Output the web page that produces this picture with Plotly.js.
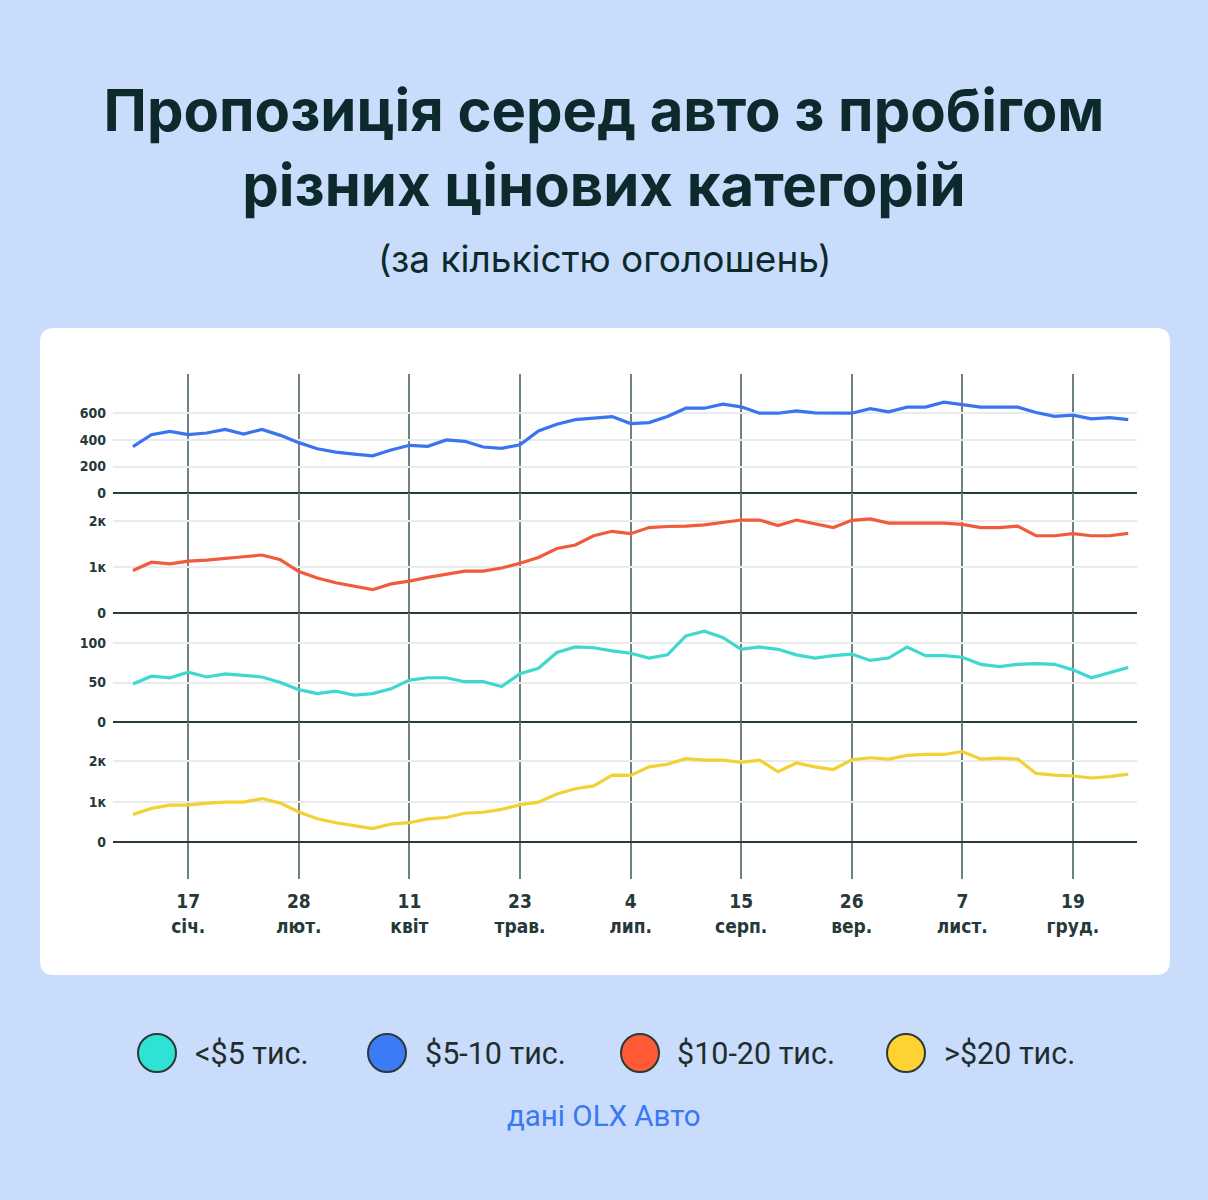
<!DOCTYPE html>
<html>
<head>
<meta charset="utf-8">
<script src="https://cdn.plot.ly/plotly-3.0.1.min.js"></script>
<style>
  html, body { margin: 0; padding: 0; background: #c9dcfb; }
  #chart { width: 1208px; height: 1200px; }
</style>
</head>
<body>
<div id="chart"></div>
<script>
// ---------------- DATA ----------------
const weeks = [
  '2020-12-27','2021-01-03','2021-01-10','2021-01-17','2021-01-24','2021-01-31','2021-02-07','2021-02-14','2021-02-21','2021-02-28',
  '2021-03-07','2021-03-14','2021-03-21','2021-03-28','2021-04-04','2021-04-11','2021-04-18','2021-04-25','2021-05-02','2021-05-09',
  '2021-05-16','2021-05-23','2021-05-30','2021-06-06','2021-06-13','2021-06-20','2021-06-27','2021-07-04','2021-07-11','2021-07-18',
  '2021-07-25','2021-08-01','2021-08-08','2021-08-15','2021-08-22','2021-08-29','2021-09-05','2021-09-12','2021-09-19','2021-09-26',
  '2021-10-03','2021-10-10','2021-10-17','2021-10-24','2021-10-31','2021-11-07','2021-11-14','2021-11-21','2021-11-28','2021-12-05',
  '2021-12-12','2021-12-19','2021-12-26','2022-01-02','2022-01-09'
];
const seriesNames = ['<$5 тис.', '$5-10 тис.', '$10-20 тис.', '>$20 тис.'];
const under5 = [48,58,56,63,57,61,59,57,50,41, 36,39,34,36,42,53,56,56,51,51, 45,61,68,88,95,94,90,87,81,85,
  109,115,107,92,95,92,85,81,84,86, 78,81,95,84,84,82,73,70,73,74, 73,66,56,62,69];
const from5to10 = [350,440,465,440,453,480,445,480,435,380, 334,309,293,280,324,360,352,400,390,347,
  337,364,468,519,554,564,577,524,531,577, 640,640,670,650,602,602,620,605,605,602,
  637,612,648,648,686,665,648,648,648,607, 579,587,559,569,554];
const from10to20 = [925,1104,1067,1127,1149,1179,1224,1261,1157,903, 761,657,582,507,634,694,776,836,910,910,
  978,1082,1209,1403,1480,1680,1777,1725,1859,1881, 1888,1918,1963,2022,2022,1903,2022,1940,1859,2015,
  2045,1955,1955,1955,1955,1926,1859,1859,1888,1680, 1680,1725,1680,1680,1732];
const over20 = [680,834,915,915,964,988,988,1077,964,745, 575,478,405,332,445,478,575,607,713,737,
  810,923,988,1190,1320,1390,1660,1652,1862,1927, 2065,2032,2032,1976,2032,1741,1960,1862,1798,2040,
  2089,2057,2146,2170,2170,2243,2057,2081,2057,1700, 1660,1636,1587,1620,1684];

const xTickDates = ['2021-01-17','2021-02-28','2021-04-11','2021-05-23','2021-07-04','2021-08-15','2021-09-26','2021-11-07','2021-12-19'];
const xTickDays = ['17','28','11','23','4','15','26','7','19'];
const xTickMonths = ['січ.','лют.','квіт','трав.','лип.','серп.','вер.','лист.','груд.'];

const y1Ticks = [0, 200, 400, 600];
const y1Text = ['0', '200', '400', '600'];
const y2Ticks = [0, 1000, 2000];
const y2Text = ['0', '1к', '2к'];
const y3Ticks = [0, 50, 100];
const y3Text = ['0', '50', '100'];
const y4Ticks = [0, 1000, 2000];
const y4Text = ['0', '1к', '2к'];

const titleText = 'Пропозиція серед авто з пробігом<br>різних цінових категорій';
const subtitleText = '(за кількістю оголошень)';
const sourceText = 'дані OLX Авто';

// ---------------- STYLE / GEOMETRY ----------------
const W = 1208, H = 1200;
const L = 113, R = 1137, T = 374, B = 842;
const px = v => (v - L) / (R - L);
const py = v => (B - v) / (B - T);

const colors = ['#3fd8cf', '#3a74ee', '#f25a3c', '#f2d232'];
const legendColors = ['#2ee2d4', '#3b7bf5', '#ff5a35', '#ffd233'];
const dark = '#0c2a2c';
const tickDark = '#26393a';
const tickFont = { family: '"Liberation Sans Narrow", "DejaVu Sans Condensed", sans-serif', size: 14, color: tickDark, weight: 700 };

const seriesData = [under5, from5to10, from10to20, over20];
const seriesAxis = ['y3', 'y', 'y2', 'y4'];

const traces = seriesData.map((d, k) => ({
  type: 'scatter', mode: 'lines', x: weeks, y: d, name: seriesNames[k],
  xaxis: 'x', yaxis: seriesAxis[k],
  line: { color: colors[k], width: 3.2, shape: 'linear' },
  hoverinfo: 'skip', showlegend: false
}));

function yAxis(domain, range, ticks, text) {
  return {
    domain: domain, range: range, tickvals: ticks, ticktext: text,
    showgrid: true, gridcolor: '#e8eaec', gridwidth: 2,
    zeroline: true, zerolinecolor: '#2a3b3b', zerolinewidth: 2.5,
    showline: false, ticks: '', ticklabelstandoff: 6,
    tickfont: tickFont, fixedrange: true, layer: 'below traces'
  };
}

// card
const r = 14, cx0 = 40, cx1 = 1170, cy0 = 328, cy1 = 975;
const cardPath =
  `M ${px(cx0 + r)} ${py(cy0)} L ${px(cx1 - r)} ${py(cy0)} Q ${px(cx1)} ${py(cy0)} ${px(cx1)} ${py(cy0 + r)} ` +
  `L ${px(cx1)} ${py(cy1 - r)} Q ${px(cx1)} ${py(cy1)} ${px(cx1 - r)} ${py(cy1)} ` +
  `L ${px(cx0 + r)} ${py(cy1)} Q ${px(cx0)} ${py(cy1)} ${px(cx0)} ${py(cy1 - r)} ` +
  `L ${px(cx0)} ${py(cy0 + r)} Q ${px(cx0)} ${py(cy0)} ${px(cx0 + r)} ${py(cy0)} Z`;

const shapes = [{
  type: 'path', xref: 'paper', yref: 'paper', path: cardPath,
  fillcolor: '#ffffff', line: { width: 0 }, layer: 'below'
}];

const legendCenters = [157, 387, 640, 906];
const legendTextX = [193, 423, 675, 942];
const legendY = 1053;
const annotations = [];
legendCenters.forEach((c, k) => {
  shapes.push({
    type: 'circle', xref: 'paper', yref: 'paper',
    x0: px(c - 19), x1: px(c + 19), y0: py(legendY + 19), y1: py(legendY - 19),
    fillcolor: legendColors[k], line: { color: '#2b3a35', width: 2 }, layer: 'above'
  });
  annotations.push({
    xref: 'paper', yref: 'paper', x: px(legendTextX[k]), y: py(legendY),
    xanchor: 'left', yanchor: 'middle', showarrow: false, text: seriesNames[k],
    font: { family: 'Roboto, sans-serif', size: 30.5, color: '#1f2d2d' }
  });
});
annotations.push({
  xref: 'paper', yref: 'paper', x: px(604), y: py(258), xanchor: 'center', yanchor: 'middle',
  showarrow: false, text: subtitleText,
  font: { family: 'Inter, sans-serif', size: 37, color: dark, weight: 400 }
});
annotations.push({
  xref: 'paper', yref: 'paper', x: px(604), y: py(1116), xanchor: 'center', yanchor: 'middle',
  showarrow: false, text: sourceText,
  font: { family: 'Roboto, sans-serif', size: 29.5, color: '#3c78f0' }
});

const layout = {
  width: W, height: H,
  paper_bgcolor: '#c9dcfb', plot_bgcolor: 'rgba(0,0,0,0)',
  margin: { l: L, r: W - R, t: T, b: H - B, pad: 0 },
  showlegend: false,
  title: {
    text: titleText,
    font: { family: 'Inter, sans-serif', size: 58, color: dark, weight: 700 },
    x: 0.5, xanchor: 'center', xref: 'container',
    y: 1 - 131 / H, yref: 'container', yanchor: 'middle'
  },
  xaxis: {
    type: 'date', anchor: 'y4',
    range: ['2020-12-19 10:00', '2022-01-12 08:00'],
    tickvals: xTickDates,
    ticktext: xTickDays.map((d, i) => d + '<br>' + xTickMonths[i]),
    showgrid: true, gridcolor: '#6e8282', gridwidth: 2,
    ticks: 'outside', ticklen: 36, tickwidth: 2, tickcolor: '#6e8282',
    ticklabelstandoff: 6,
    zeroline: false, showline: false, fixedrange: true,
    tickfont: { family: tickFont.family, size: 19, color: tickDark, weight: 700 }
  },
  yaxis:  yAxis([py(493), 1], [0, 898], y1Ticks, y1Text),
  yaxis2: yAxis([py(613), py(493)], [0, 2610], y2Ticks, y2Text),
  yaxis3: yAxis([py(722), py(613)], [0, 138], y3Ticks, y3Text),
  yaxis4: yAxis([0, py(722)], [0, 2975], y4Ticks, y4Text),
  shapes: shapes,
  annotations: annotations
};

Plotly.newPlot('chart', traces, layout, { staticPlot: true, displayModeBar: false });
</script>
</body>
</html>
